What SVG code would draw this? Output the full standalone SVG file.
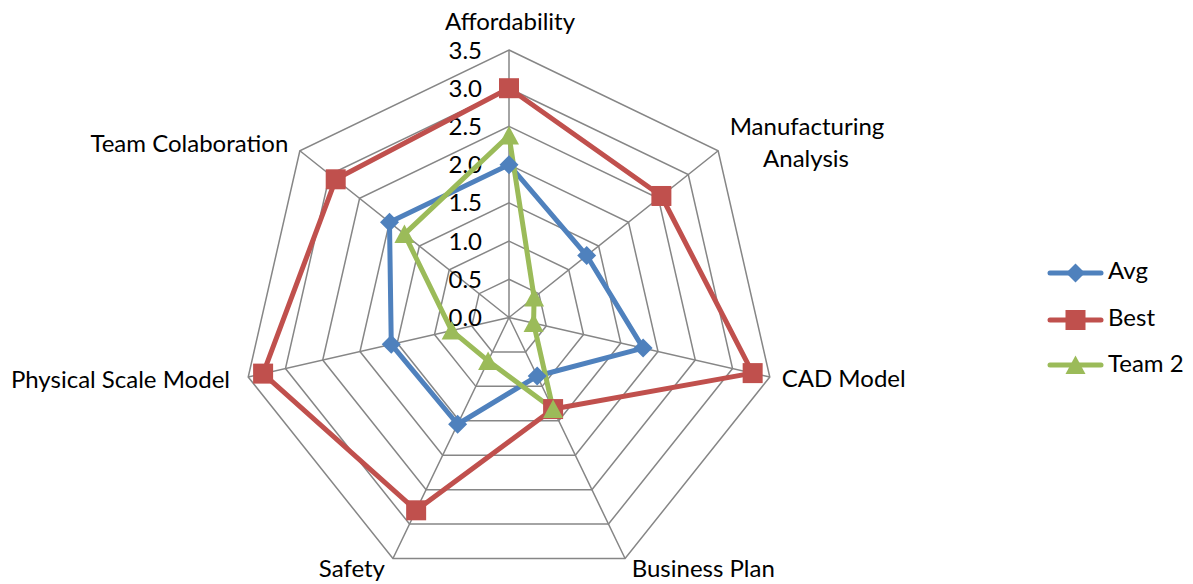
<svg xmlns="http://www.w3.org/2000/svg" width="1193" height="584" viewBox="0 0 1193 584">
<style>
  .grid { fill: none; stroke: #868686; stroke-width: 1.5; }
  .lbl { font-family: Lato, "Liberation Sans", sans-serif; font-size: 24px; fill: #000; }
  .tick { font-family: Lato, "Liberation Sans", sans-serif; font-size: 24px; fill: #000; text-anchor: end; }
  .s { fill: none; stroke-width: 5; stroke-linejoin: round; stroke-linecap: round; }
  .avg { stroke: #4F81BD; }
  .best { stroke: #C0504D; }
  .team { stroke: #9BBB59; }
</style>
<defs>
  <path id="mDia" d="M0,-9.5 L9.5,0 L0,9.5 L-9.5,0 Z" fill="#4F81BD"/>
  <rect id="mSq" x="-10" y="-10" width="20" height="20" fill="#C0504D"/>
  <path id="mTri" d="M0,-9.5 L10,9 L-10,9 Z" fill="#9BBB59"/>
</defs>
<rect width="1193" height="584" fill="#fff"/>
<g id="grid">
  <polygon class="grid" points="509,279.29 538.88,293.67 546.26,326.00 525.58,351.93 492.42,351.93 471.74,326.00 479.12,293.67"/>
  <polygon class="grid" points="509,241.07 568.75,269.85 583.51,334.51 542.16,386.36 475.84,386.36 434.49,334.51 449.25,269.85"/>
  <polygon class="grid" points="509,202.86 598.63,246.02 620.77,343.01 558.74,420.79 459.26,420.79 397.23,343.01 419.37,246.02"/>
  <polygon class="grid" points="509,164.64 628.51,222.20 658.03,351.51 575.32,455.22 442.68,455.22 359.97,351.51 389.49,222.20"/>
  <polygon class="grid" points="509,126.43 658.39,198.37 695.28,360.02 591.90,489.65 426.10,489.65 322.72,360.02 359.61,198.37"/>
  <polygon class="grid" points="509,88.21 688.26,174.54 732.54,368.52 608.48,524.08 409.52,524.08 285.46,368.52 329.74,174.54"/>
  <polygon class="grid" points="509,50 718.14,150.72 769.79,377.02 625.06,558.51 392.94,558.51 248.21,377.02 299.86,150.72"/>
  <path class="grid" d="M509,317.5 L509,50 M509,317.5 L718.14,150.72 M509,317.5 L769.79,377.02 M509,317.5 L625.06,558.51 M509,317.5 L392.94,558.51 M509,317.5 L248.21,377.02 M509,317.5 L299.86,150.72"/>
</g>
<g id="ticks">
  <text class="tick" x="482" y="58.5">3.5</text>
  <text class="tick" x="482" y="96.7">3.0</text>
  <text class="tick" x="482" y="134.9">2.5</text>
  <text class="tick" x="482" y="173.1">2.0</text>
  <text class="tick" x="482" y="211.4">1.5</text>
  <text class="tick" x="482" y="249.6">1.0</text>
  <text class="tick" x="482" y="287.8">0.5</text>
  <text class="tick" x="482" y="326">0.0</text>
</g>
<g id="axis-labels">
  <text class="lbl" x="510" y="30" text-anchor="middle">Affordability</text>
  <text class="lbl" x="807" y="135" text-anchor="middle">Manufacturing</text>
  <text class="lbl" x="806" y="166.7" text-anchor="middle">Analysis</text>
  <text class="lbl" x="781.7" y="386.7">CAD Model</text>
  <text class="lbl" x="631.7" y="576.7">Business Plan</text>
  <text class="lbl" x="385" y="576.7" text-anchor="end">Safety</text>
  <text class="lbl" x="230" y="388.3" text-anchor="end">Physical Scale Model</text>
  <text class="lbl" x="288.3" y="151.7" text-anchor="end">Team Colaboration</text>
</g>
<g id="connectors">
  <polygon id="series-avg" class="s avg" points="509,164.64 586.68,255.55 643.12,348.11 537.19,376.03 457.60,424.24 391.27,344.37 389.49,222.20"/>
  <polygon id="series-best" class="s best" points="509,88.21 661.38,195.98 752.66,373.11 553.10,409.08 416.15,510.31 263.11,373.62 335.71,179.30"/>
  <polygon id="series-team2" class="s team" points="509,135.6 534.10,297.49 533.57,323.11 553.10,409.08 488.11,360.88 451.63,330.60 404.43,234.11"/>
</g>
<g id="markers-avg">
  <use href="#mDia" x="509" y="164.64"/>
  <use href="#mDia" x="586.68" y="255.55"/>
  <use href="#mDia" x="643.12" y="348.11"/>
  <use href="#mDia" x="537.19" y="376.03"/>
  <use href="#mDia" x="457.60" y="424.24"/>
  <use href="#mDia" x="391.27" y="344.37"/>
  <use href="#mDia" x="389.49" y="222.20"/>
</g>
<g id="markers-best">
  <use href="#mSq" x="509" y="88.21"/>
  <use href="#mSq" x="661.38" y="195.98"/>
  <use href="#mSq" x="752.66" y="373.11"/>
  <use href="#mSq" x="553.10" y="409.08"/>
  <use href="#mSq" x="416.15" y="510.31"/>
  <use href="#mSq" x="263.11" y="373.62"/>
  <use href="#mSq" x="335.71" y="179.30"/>
</g>
<g id="markers-team2">
  <use href="#mTri" x="509" y="135.6"/>
  <use href="#mTri" x="534.10" y="297.49"/>
  <use href="#mTri" x="533.57" y="323.11"/>
  <use href="#mTri" x="553.10" y="409.08"/>
  <use href="#mTri" x="488.11" y="360.88"/>
  <use href="#mTri" x="451.63" y="330.60"/>
  <use href="#mTri" x="404.43" y="234.11"/>
</g>
<g id="legend">
  <line class="s avg" x1="1050" y1="273" x2="1101" y2="273"/>
  <use href="#mDia" x="1075.5" y="273"/>
  <text class="lbl" x="1108" y="279">Avg</text>
  <line class="s best" x1="1050" y1="320" x2="1101" y2="320"/>
  <use href="#mSq" x="1075.5" y="320"/>
  <text class="lbl" x="1108" y="326">Best</text>
  <line class="s team" x1="1050" y1="365" x2="1101" y2="365"/>
  <use href="#mTri" x="1075.5" y="365"/>
  <text class="lbl" x="1108" y="372">Team 2</text>
</g>
</svg>
